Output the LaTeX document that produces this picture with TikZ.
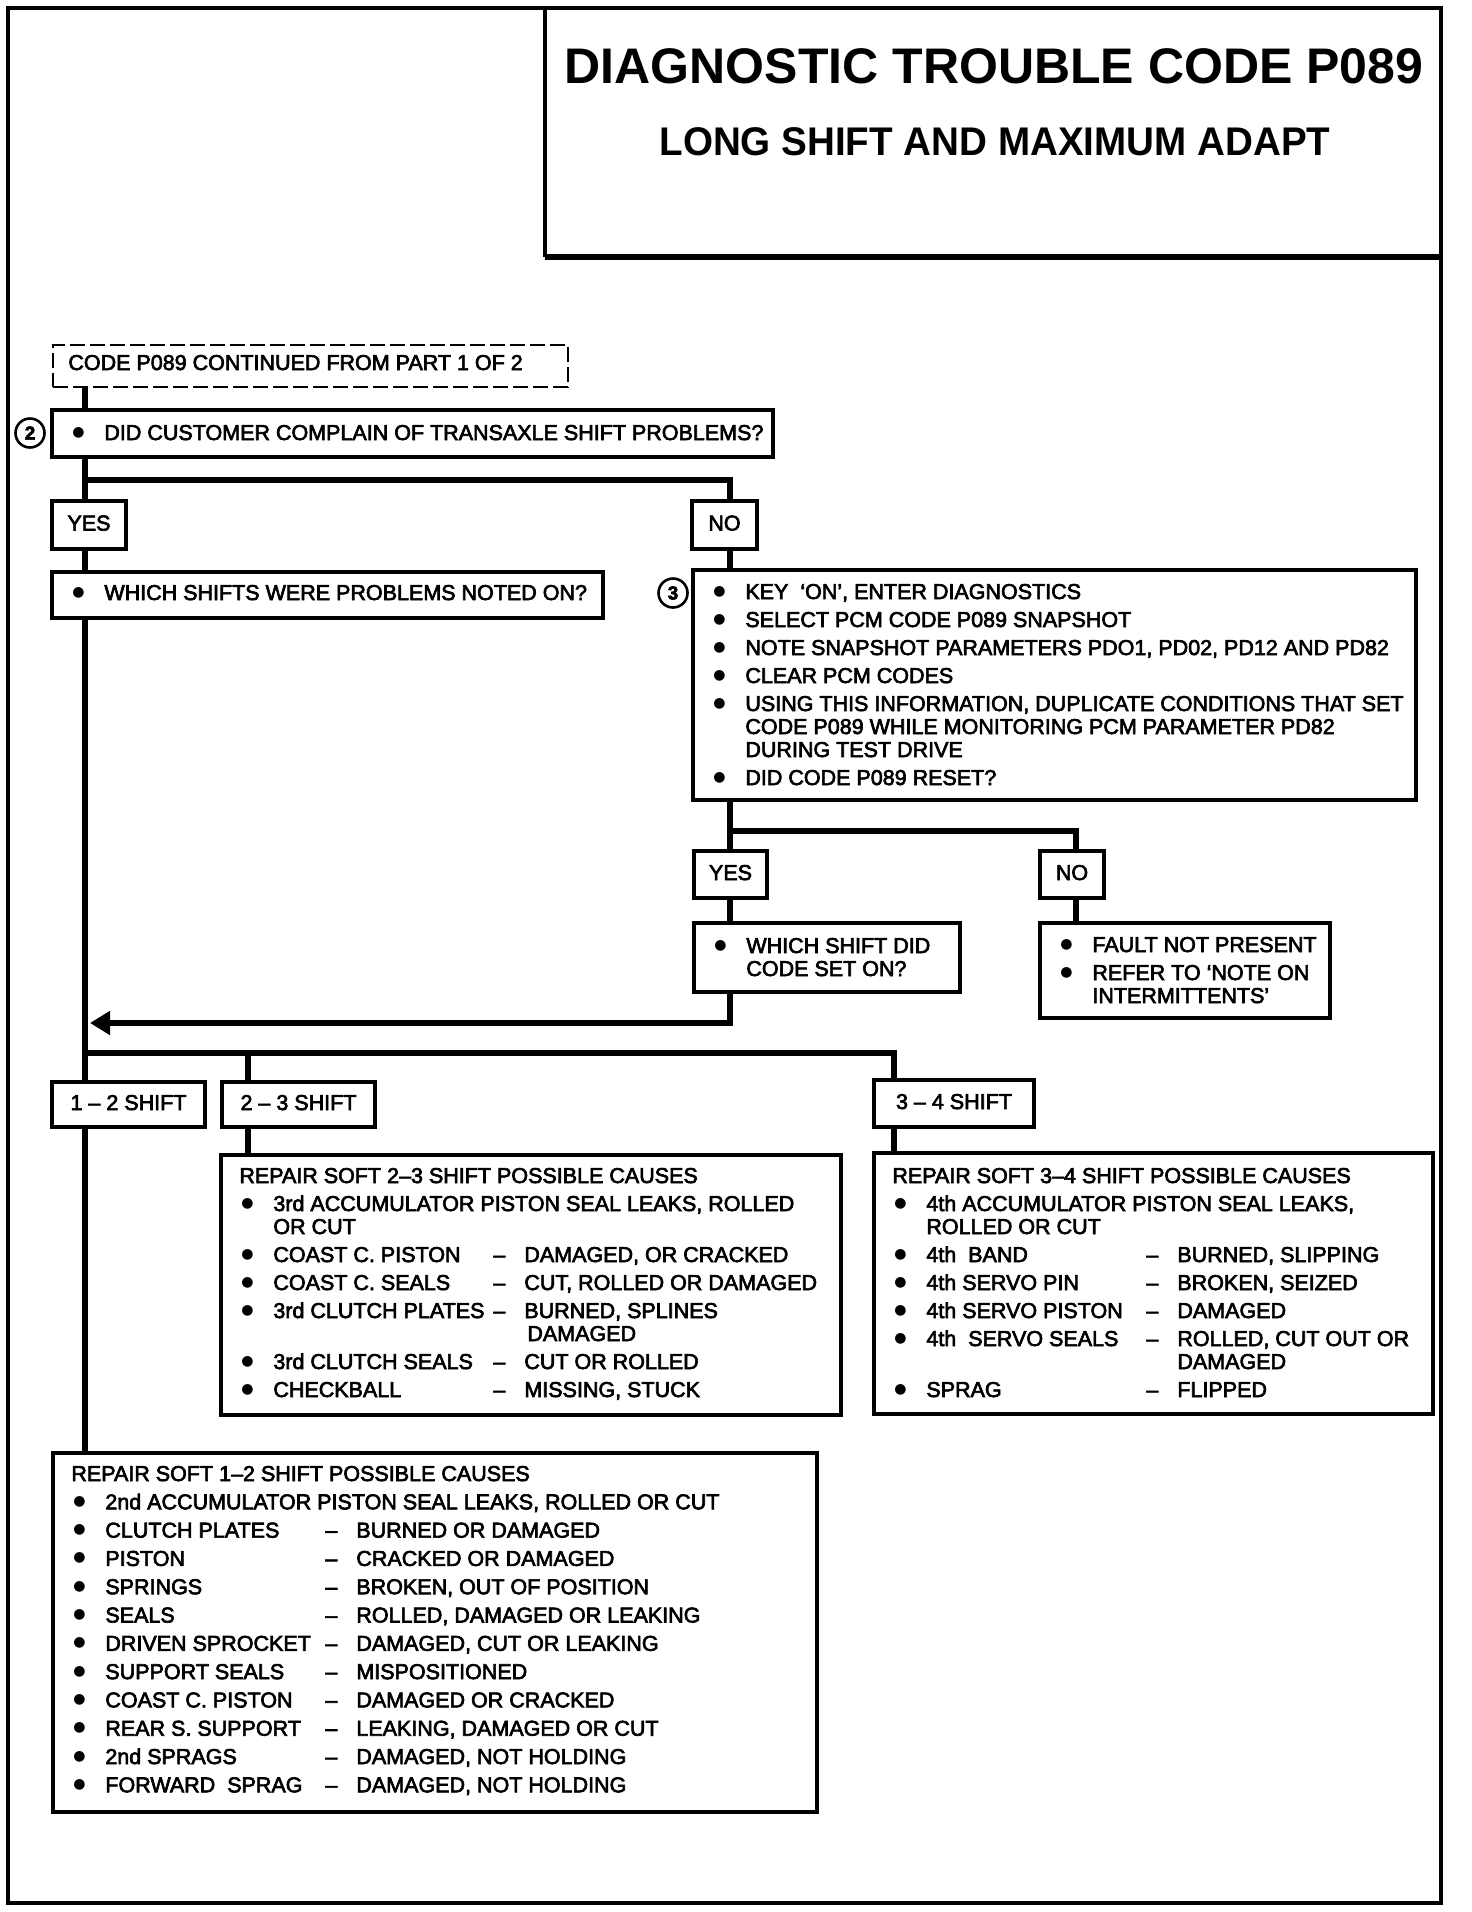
\documentclass[tikz,border=0pt]{standalone}
\usepackage{fontspec}
\usepackage{graphicx}
\setmainfont{Liberation Sans}
\newfontfamily\chartfont{Liberation Sans}[FakeBold=3]
\newfontfamily\dotfont{DejaVu Sans}
\usetikzlibrary{arrows.meta,fit}

\newcommand{\blt}{\makebox[17pt][l]{\hspace{1pt}\raisebox{2pt}{\dotfont\fontsize{7}{8}\selectfont ●}}}
\newcommand{\gap}{\makebox[17pt]{}}
\newcommand{\cause}[2]{\blt\makebox[110pt][l]{#1}\makebox[15.5pt][l]{–}#2}
\newcommand{\more}[1]{\makebox[142.5pt]{}#1}
\newcommand{\lines}[1]{\begin{tabular}[t]{@{}l@{}}#1\end{tabular}}

\tikzset{
  box/.style={draw, line width=1.7pt, inner sep=0pt},
  dashbox/.style={draw, line width=1.3pt, dash pattern=on 7.5pt off 2.5pt, inner sep=0pt},
  link/.style={line width=3.2pt},
  txt/.style={inner sep=0pt, anchor=base west},
  word/.style={inner sep=0pt, anchor=base},
  tag/.style={draw, circle, line width=1.3pt, minimum size=14.5pt, inner sep=0pt,
    font=\chartfont\bfseries\fontsize{9.5}{10}\selectfont}
}

\begin{document}
\begin{tikzpicture}[x=0.5pt, y=-0.5pt, font=\chartfont\fontsize{10.75}{11.5}\selectfont]
\useasboundingbox (0,0) rectangle (1472,1912);

% Marco y titulo
\draw[line width=2pt] (8,8) rectangle (1441,1903);
\draw[line width=2pt] (545,8) -- (545,257);
\draw[line width=2.8pt] (545,257) -- (1441,257);
\node[anchor=base, font=\normalfont\bfseries\fontsize{25}{30}\selectfont] (title) at (994,83)
  {DIAGNOSTIC TROUBLE CODE P089};
\node[anchor=base, font=\normalfont\bfseries\fontsize{20}{24}\selectfont] (subtitle) at (995,155)
  {\scalebox{0.965}[1]{LONG SHIFT AND MAXIMUM ADAPT}};

% Columnas de las lineas
\coordinate (spine) at (85,0);
\coordinate (nocol) at (730,0);
\coordinate (faultcol) at (1076,0);
\coordinate (s23col) at (248,0);
\coordinate (s34col) at (894,0);
\coordinate (split1) at (0,480);
\coordinate (split2) at (0,831);
\coordinate (split3) at (0,1053);
\coordinate (merge) at (90,1023);

% Cajas
\node[dashbox, fit={(53,345) (568,387)}] (cont) {};
\node[txt] (contt) at (68,370) {CODE P089 CONTINUED FROM PART 1 OF 2};

\node[box, fit={(52,410) (773,457)}] (q2) {};
\node[txt] (q2t) at (70,440) {\lines{\blt DID CUSTOMER COMPLAIN OF TRANSAXLE SHIFT PROBLEMS?}};
\node[tag] (c2) at (30,433) {2};

\node[box, fit={(52,501) (126,549)}] (y1) {};
\node[word] (y1t) at (89,530.5) {YES};
\node[box, fit={(692,501) (757,549)}] (n1) {};
\node[word] (n1t) at (724.5,530.5) {NO};

\node[box, fit={(52,572) (603,618)}] (q3) {};
\node[txt] (q3t) at (70,600) {\lines{\blt WHICH SHIFTS WERE PROBLEMS NOTED ON?}};

\node[box, fit={(693,570) (1416,800)}] (q4) {};
\node[txt] (q4t) at (711,599) {\lines{%
  \blt KEY\ \ ‘ON’, ENTER DIAGNOSTICS\\[2.5pt]
  \blt SELECT PCM CODE P089 SNAPSHOT\\[2.5pt]
  \blt NOTE SNAPSHOT PARAMETERS PDO1, PD02, PD12 AND PD82\\[2.5pt]
  \blt CLEAR PCM CODES\\[2.5pt]
  \blt USING THIS INFORMATION, DUPLICATE CONDITIONS THAT SET\\
  \gap CODE P089 WHILE MONITORING PCM PARAMETER PD82\\
  \gap DURING TEST DRIVE\\[2.5pt]
  \blt DID CODE P089 RESET?}};
\node[tag] (c3) at (673,593) {3};

\node[box, fit={(694,851) (767,898)}] (y2) {};
\node[word] (y2t) at (730.5,880) {YES};
\node[box, fit={(1040,851) (1104,898)}] (n2) {};
\node[word] (n2t) at (1072,880) {NO};

\node[box, fit={(694,923) (960,992)}] (q5) {};
\node[txt] (q5t) at (712,953) {\lines{\blt WHICH SHIFT DID\\ \gap CODE SET ON?}};

\node[box, fit={(1040,923) (1330,1018)}] (q6) {};
\node[txt] (q6t) at (1058,952) {\lines{%
  \blt FAULT NOT PRESENT\\[2.5pt]
  \blt REFER TO ‘NOTE ON\\
  \gap INTERMITTENTS’}};

\node[box, fit={(52,1082) (205,1127)}] (s12) {};
\node[word] (s12t) at (128.5,1110) {1 – 2 SHIFT};
\node[box, fit={(222,1082) (375,1127)}] (s23) {};
\node[word] (s23t) at (298.5,1110) {2 – 3 SHIFT};
\node[box, fit={(874,1080) (1034,1127)}] (s34) {};
\node[word] (s34t) at (954,1109) {3 – 4 SHIFT};

\node[box, fit={(221,1155) (841,1415)}] (r23) {};
\node[txt] (r23t) at (239,1183) {\lines{%
  REPAIR SOFT 2–3 SHIFT POSSIBLE CAUSES\\[2.5pt]
  \blt 3rd ACCUMULATOR PISTON SEAL LEAKS, ROLLED\\
  \gap OR CUT\\[2.5pt]
  \cause{COAST C. PISTON}{DAMAGED, OR CRACKED}\\[2.5pt]
  \cause{COAST C. SEALS}{CUT, ROLLED OR DAMAGED}\\[2.5pt]
  \cause{3rd CLUTCH PLATES}{BURNED, SPLINES}\\
  \more{\hspace{1.5pt}DAMAGED}\\[2.5pt]
  \cause{3rd CLUTCH SEALS}{CUT OR ROLLED}\\[2.5pt]
  \cause{CHECKBALL}{MISSING, STUCK}}};

\node[box, fit={(874,1153) (1433,1414)}] (r34) {};
\node[txt] (r34t) at (892,1183) {\lines{%
  REPAIR SOFT 3–4 SHIFT POSSIBLE CAUSES\\[2.5pt]
  \blt 4th ACCUMULATOR PISTON SEAL LEAKS,\\
  \gap ROLLED OR CUT\\[2.5pt]
  \cause{4th\ \ BAND}{BURNED, SLIPPING}\\[2.5pt]
  \cause{4th SERVO PIN}{BROKEN, SEIZED}\\[2.5pt]
  \cause{4th SERVO PISTON}{DAMAGED}\\[2.5pt]
  \cause{4th\ \ SERVO SEALS}{ROLLED, CUT OUT OR}\\
  \more{DAMAGED}\\[2.5pt]
  \cause{SPRAG}{FLIPPED}}};

\node[box, fit={(53,1453) (817,1812)}] (r12) {};
\node[txt] (r12t) at (71,1481) {\lines{%
  REPAIR SOFT 1–2 SHIFT POSSIBLE CAUSES\\[2.65pt]
  \blt 2nd ACCUMULATOR PISTON SEAL LEAKS, ROLLED OR CUT\\[2.65pt]
  \cause{CLUTCH PLATES}{BURNED OR DAMAGED}\\[2.65pt]
  \cause{PISTON}{CRACKED OR DAMAGED}\\[2.65pt]
  \cause{SPRINGS}{BROKEN, OUT OF POSITION}\\[2.65pt]
  \cause{SEALS}{ROLLED, DAMAGED OR LEAKING}\\[2.65pt]
  \cause{DRIVEN SPROCKET}{DAMAGED, CUT OR LEAKING}\\[2.65pt]
  \cause{SUPPORT SEALS}{MISPOSITIONED}\\[2.65pt]
  \cause{COAST C. PISTON}{DAMAGED OR CRACKED}\\[2.65pt]
  \cause{REAR S. SUPPORT}{LEAKING, DAMAGED OR CUT}\\[2.65pt]
  \cause{2nd SPRAGS}{DAMAGED, NOT HOLDING}\\[2.65pt]
  \cause{FORWARD\ \ SPRAG}{DAMAGED, NOT HOLDING}}};

% Conexiones
\draw[link] (cont.south -| spine) -- (q2.north -| spine);
\draw[link] (q2.south -| spine) -- (y1.north -| spine);
\draw[link] (split1 -| spine) -| (n1.north -| nocol);
\draw[link] (y1.south -| spine) -- (q3.north -| spine);
\draw[link] (n1.south -| nocol) -- (q4.north -| nocol);
\draw[link] (q4.south -| nocol) -- (y2.north -| nocol);
\draw[link] (split2 -| nocol) -| (n2.north -| faultcol);
\draw[link] (y2.south -| nocol) -- (q5.north -| nocol);
\draw[link] (n2.south -| faultcol) -- (q6.north -| faultcol);
\draw[link, -{Triangle[length=10pt, width=11.5pt]}] (q5.south -| nocol) |- (merge);
\draw[link] (q3.south -| spine) -- (s12.north -| spine);
\draw[link] (split3 -| spine) -| (s34.north -| s34col);
\draw[link] (split3 -| s23col) -- (s23.north -| s23col);
\draw[link] (s12.south -| spine) -- (r12.north -| spine);
\draw[link] (s23.south -| s23col) -- (r23.north -| s23col);
\draw[link] (s34.south -| s34col) -- (r34.north -| s34col);
\end{tikzpicture}
\end{document}
